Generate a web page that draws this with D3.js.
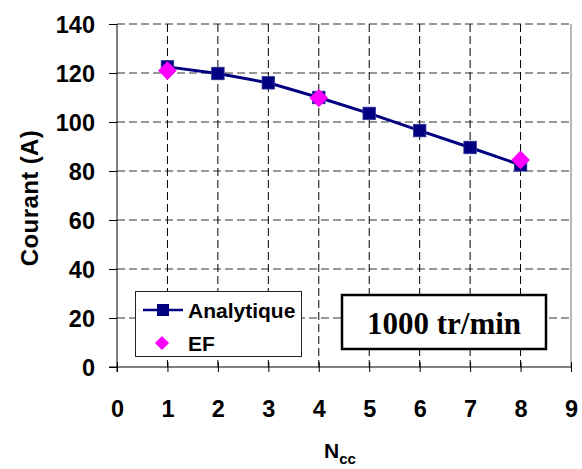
<!DOCTYPE html>
<html><head><meta charset="utf-8">
<script src="https://cdn.jsdelivr.net/npm/d3@7"></script>
<style>body{margin:0;background:#fff}svg{display:block}</style>
</head><body>
<script>
const nccAnalytique = [1,2,3,4,5,6,7,8];
const courantAnalytique = [122.5,119.8,116.0,110.0,103.5,96.5,89.6,82.5];
const nccEF = [1,4,8];
const courantEF = [121.0,109.8,84.5];
const xTicks = [0,1,2,3,4,5,6,7,8,9];
const yTicks = [0,20,40,60,80,100,120,140];

const W=582,H=469;
const svg=d3.select("body").append("svg").attr("width",W).attr("height",H);
const x=d3.scaleLinear().domain([0,9]).range([117,571]);
const y=d3.scaleLinear().domain([0,140]).range([367,24]);
const font="Liberation Sans, Arial, sans-serif";

// horizontal grid
svg.append("g").selectAll("line").data(yTicks.filter(d=>d>0)).join("line")
  .attr("x1",x(0)).attr("x2",x(9)).attr("y1",d=>y(d)).attr("y2",d=>y(d))
  .attr("stroke","#777").attr("stroke-width",1.6).attr("stroke-dasharray","8,4");
// vertical grid
svg.append("g").selectAll("line").data(xTicks.filter(d=>d>0&&d<9)).join("line")
  .attr("x1",d=>x(d)).attr("x2",d=>x(d)).attr("y1",y(140)).attr("y2",y(0))
  .attr("stroke","#000").attr("stroke-width",1).attr("stroke-dasharray","8,4");
// right border
svg.append("line").attr("x1",x(9)).attr("x2",x(9)).attr("y1",y(140)).attr("y2",y(0))
  .attr("stroke","#888").attr("stroke-width",1.2);

// axes
const xAxis=svg.append("g").attr("transform",`translate(0,${y(0)})`)
  .call(d3.axisBottom(x).tickValues(xTicks).tickSize(5).tickFormat(d3.format("d")));
xAxis.select(".domain").remove();
xAxis.append("line").attr("x1",x(0)-8).attr("x2",x(9)).attr("stroke","#000");
xAxis.selectAll(".tick line").attr("y1",-5).attr("y2",5).attr("stroke","#000");
xAxis.selectAll(".tick text").attr("y",0).attr("dy","50px").attr("font-family",font)
  .attr("font-weight","bold").attr("font-size","23.5px").attr("fill","#000");

const yAxis=svg.append("g").attr("transform",`translate(${x(0)},0)`)
  .call(d3.axisLeft(y).tickValues(yTicks).tickSize(8).tickFormat(d3.format("d")));
yAxis.select(".domain").remove();
yAxis.append("line").attr("y1",y(0)+5).attr("y2",y(140)).attr("stroke","#000");
yAxis.selectAll(".tick line").attr("stroke","#000");
yAxis.selectAll(".tick text").attr("x",-22).attr("dy","0.36em").attr("font-family",font)
  .attr("font-weight","bold").attr("font-size","23.5px").attr("fill","#000");

// axis titles
svg.append("text").attr("transform",`translate(38,198) rotate(-90)`)
  .attr("text-anchor","middle").attr("font-family",font).attr("font-weight","bold")
  .attr("font-size","24px").attr("letter-spacing","0.4px").text("Courant (A)");
const xt=svg.append("text").attr("x",324).attr("y",458).attr("font-family",font)
  .attr("font-weight","bold").attr("font-size","21px");
xt.append("tspan").text("N");
xt.append("tspan").attr("font-size","15px").attr("dy",6).text("cc");

// line
const line=d3.line().x(d=>x(d[0])).y(d=>y(d[1]));
const aData=nccAnalytique.map((n,i)=>[n,courantAnalytique[i]]);
svg.append("path").datum(aData).attr("d",line).attr("fill","none")
  .attr("stroke","#000080").attr("stroke-width",3);
const sq=12.5;
svg.append("g").selectAll("rect").data(aData).join("rect")
  .attr("x",d=>x(d[0])-sq/2).attr("y",d=>y(d[1])-sq/2).attr("width",sq).attr("height",sq)
  .attr("fill","#000080").attr("stroke","#33339a").attr("stroke-width",0.8);
const eData=nccEF.map((n,i)=>[n,courantEF[i]]);
const diamond=d3.symbol().type(d3.symbolSquare).size(175);
svg.append("g").selectAll("path").data(eData).join("path")
  .attr("d",diamond).attr("transform",d=>`translate(${x(d[0])},${y(d[1])}) rotate(45)`)
  .attr("fill","#ff00ff");

// legend
const lg=svg.append("g");
lg.append("rect").attr("x",135.5).attr("y",291.5).attr("width",166).attr("height",65)
  .attr("fill","#fff").attr("stroke","#222").attr("stroke-width",1);
lg.append("line").attr("x1",143).attr("x2",183).attr("y1",310).attr("y2",310)
  .attr("stroke","#000080").attr("stroke-width",2.5);
lg.append("rect").attr("x",163-6).attr("y",310-6).attr("width",12).attr("height",12)
  .attr("fill","#000080");
lg.append("path").attr("d",d3.symbol().type(d3.symbolSquare).size(100))
  .attr("transform","translate(162,343) rotate(45)").attr("fill","#ff00ff");
lg.append("text").attr("x",188).attr("y",318).attr("font-family",font).attr("font-weight","bold")
  .attr("font-size","21px").text("Analytique");
lg.append("text").attr("x",188).attr("y",351).attr("font-family",font).attr("font-weight","bold")
  .attr("font-size","21px").text("EF");

// annotation
svg.append("rect").attr("x",342).attr("y",295).attr("width",204).attr("height",54)
  .attr("fill","#fff").attr("stroke","#000").attr("stroke-width",2.5);
svg.append("text").attr("x",444).attr("y",334).attr("text-anchor","middle")
  .attr("font-family","Liberation Serif, Times New Roman, serif").attr("font-weight","bold")
  .attr("font-size","31px").text("1000 tr/min");
</script>
</body></html>
